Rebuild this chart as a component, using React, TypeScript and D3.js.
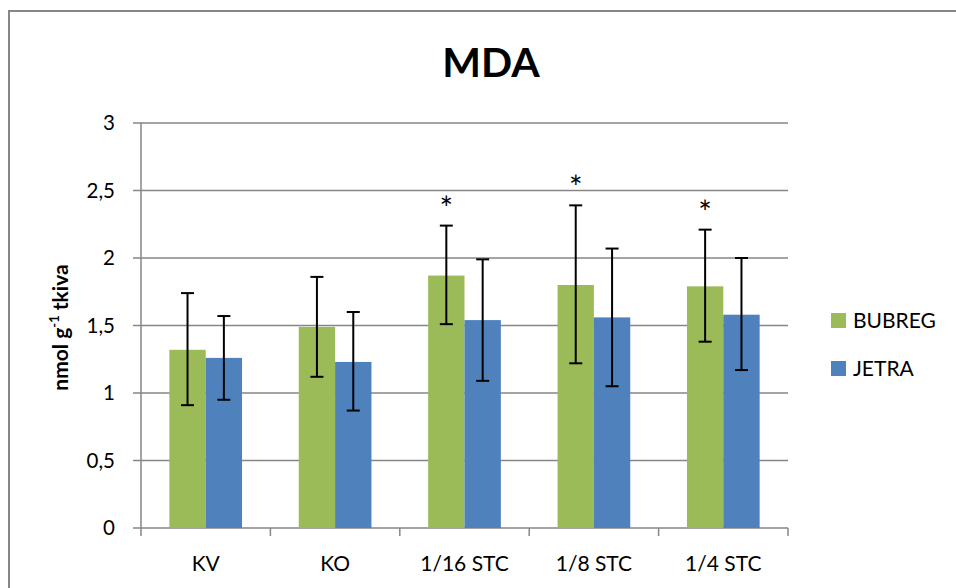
import { scaleBand, scaleLinear } from 'd3';

const categories = ['KV', 'KO', '1/16 STC', '1/8 STC', '1/4 STC'];
const seriesNames = ['BUBREG', 'JETRA'];
const bubreg = [1.32, 1.49, 1.87, 1.8, 1.79];
const bubregLow = [0.91, 1.12, 1.51, 1.22, 1.38];
const bubregHigh = [1.74, 1.86, 2.24, 2.39, 2.21];
const jetra = [1.26, 1.23, 1.54, 1.56, 1.58];
const jetraLow = [0.95, 0.87, 1.09, 1.05, 1.17];
const jetraHigh = [1.57, 1.6, 1.99, 2.07, 2.0];
const significant = [false, false, true, true, true];
const yTicks = [0, 0.5, 1, 1.5, 2, 2.5, 3];

const colors = ['#9BBB59', '#4F81BD'];
const font = 'Lato, "Open Sans", sans-serif';
const grid = '#868686';

export default function App(): JSX.Element {
  const left = 141;
  const right = 788;
  const top = 123;
  const bottom = 528;

  const y = scaleLinear().domain([0, 3]).range([bottom, top]);
  const x = scaleBand<string>().domain(categories).range([left, right]).padding(0);
  const inner = scaleBand<string>()
    .domain(seriesNames)
    .range([0, x.bandwidth()])
    .paddingInner(0)
    .paddingOuter(0.78);

  const series = [
    { name: seriesNames[0], values: bubreg, low: bubregLow, high: bubregHigh },
    { name: seriesNames[1], values: jetra, low: jetraLow, high: jetraHigh }
  ];

  const boundaries = [...categories.map((c) => x(c) as number), right];

  return (
    <div style={{ position: 'absolute', left: 0, top: 0 }}>
      <svg width={956} height={588} style={{ display: 'block' }} fontFamily={font}>
        <rect x={0} y={0} width={956} height={588} fill="#fff" />
        <rect x={9} y={11} width={1000} height={1000} fill="none" stroke={grid} strokeWidth={2} />

        <text x={491} y={77} textAnchor="middle" fontSize={41} fontWeight="bold">
          MDA
        </text>

        {/* gridlines + y ticks */}
        {yTicks.map((t) => (
          <g key={t}>
            <line x1={133} x2={right} y1={y(t)} y2={y(t)} stroke={grid} strokeWidth={1.5} />
            <text x={115} y={y(t)} dy="0.35em" textAnchor="end" fontSize={20.5}>
              {String(t).replace('.', ',')}
            </text>
          </g>
        ))}

        {/* y axis */}
        <line x1={left} x2={left} y1={top} y2={bottom} stroke={grid} strokeWidth={1.5} />

        {/* x ticks */}
        {boundaries.map((b, i) => (
          <line key={i} x1={b} x2={b} y1={bottom} y2={bottom + 8} stroke={grid} strokeWidth={1.5} />
        ))}

        {/* bars */}
        {series.map((s, si) =>
          categories.map((c, i) => {
            const bx = (x(c) as number) + (inner(s.name) as number);
            const bw = inner.bandwidth();
            return (
              <rect
                key={`${si}-${i}`}
                x={bx}
                y={y(s.values[i])}
                width={bw}
                height={bottom - y(s.values[i])}
                fill={colors[si]}
              />
            );
          })
        )}

        {/* error bars */}
        {series.map((s, si) =>
          categories.map((c, i) => {
            const cx = (x(c) as number) + (inner(s.name) as number) + inner.bandwidth() / 2;
            return (
              <g key={`e${si}-${i}`} stroke="#000" strokeWidth={2}>
                <line x1={cx} x2={cx} y1={y(s.high[i])} y2={y(s.low[i])} />
                <line x1={cx - 6.5} x2={cx + 6.5} y1={y(s.high[i])} y2={y(s.high[i])} />
                <line x1={cx - 6.5} x2={cx + 6.5} y1={y(s.low[i])} y2={y(s.low[i])} />
              </g>
            );
          })
        )}

        {/* significance marks */}
        {categories.map((c, i) =>
          significant[i] ? (
            <text
              key={`s${i}`}
              x={(x(c) as number) + (inner(seriesNames[0]) as number) + inner.bandwidth() / 2}
              y={y(bubregHigh[i]) - 6}
              textAnchor="middle"
              fontSize={32}
            >
              *
            </text>
          ) : null
        )}

        {/* x labels */}
        {categories.map((c) => (
          <text key={c} x={(x(c) as number) + x.bandwidth() / 2} y={571} textAnchor="middle" fontSize={21}>
            {c}
          </text>
        ))}

        {/* y label */}
        <text
          transform={`translate(68, ${(top + bottom) / 2 + 2}) rotate(-90)`}
          textAnchor="middle"
          fontSize={21}
          fontWeight="bold"
        >
          nmol g
          <tspan dy={-9} fontSize={13}>
            -1
          </tspan>
          <tspan dy={9}> tkiva</tspan>
        </text>

        {/* legend */}
        {seriesNames.map((n, i) => (
          <g key={n} transform={`translate(831, ${313 + i * 48})`}>
            <rect x={0} y={0} width={15} height={15} fill={colors[i]} />
            <text x={22} y={7.5} dy="0.35em" fontSize={21}>
              {n}
            </text>
          </g>
        ))}
      </svg>
    </div>
  );
}
